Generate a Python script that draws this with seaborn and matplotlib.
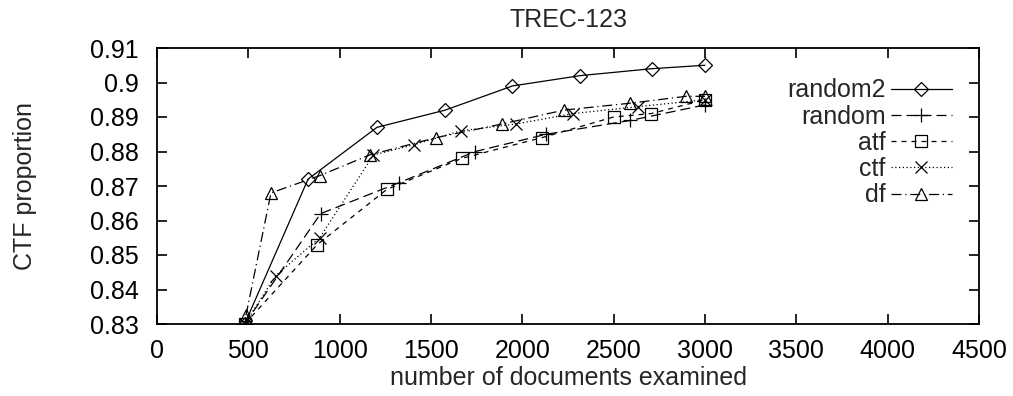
import pandas as pd
import seaborn as sns
import matplotlib.pyplot as plt

sns.set_style('ticks')
plt.rcParams['font.family'] = ['Liberation Sans', 'DejaVu Sans']

# data
x_random2 = [480, 827, 1204, 1578, 1946, 2318, 2709, 3000]
y_random2 = [0.830, 0.872, 0.887, 0.892, 0.899, 0.902, 0.904, 0.905]

x_random = [480, 896, 1327, 1742, 2131, 2591, 3000]
y_random = [0.830, 0.862, 0.871, 0.880, 0.885, 0.889, 0.8935]

x_atf = [480, 877, 1258, 1668, 2106, 2500, 2706, 3000]
y_atf = [0.830, 0.853, 0.869, 0.878, 0.884, 0.890, 0.891, 0.895]

x_ctf = [480, 649, 891, 1185, 1409, 1664, 1968, 2279, 2631, 3000]
y_ctf = [0.830, 0.844, 0.855, 0.879, 0.882, 0.886, 0.888, 0.891, 0.893, 0.895]

x_df = [487, 624, 891, 1164, 1527, 1891, 2227, 2591, 2897, 3000]
y_df = [0.8325, 0.868, 0.873, 0.879, 0.884, 0.888, 0.892, 0.894, 0.896, 0.896]

series = [
    ('random2', x_random2, y_random2, '-', 'D', 7),
    ('random', x_random, y_random, (0, (8, 4)), '+', 10),
    ('atf', x_atf, y_atf, (0, (4, 4)), 's', 9),
    ('ctf', x_ctf, y_ctf, (0, (1, 2)), 'x', 9),
    ('df', x_df, y_df, (0, (8, 3, 1, 3)), '^', 9),
]

fig = plt.figure(figsize=(10.13, 3.96), dpi=100)
ax = fig.add_axes([157 / 1013, 1 - 324 / 396, 822 / 1013, 276 / 396])

for name, xs, ys, ls, mk, ms in series:
    df = pd.DataFrame({'x': xs, 'y': ys})
    sns.lineplot(data=df, x='x', y='y', ax=ax, color='black', linewidth=0.9,
                 linestyle=ls, marker=mk, markersize=ms, fillstyle='none',
                 markeredgecolor='black', markeredgewidth=0.9, label=name)

ax.set_xlim(0, 4500)
ax.set_ylim(0.83, 0.91)
ax.set_xticks(range(0, 4501, 500))
ax.set_yticks([0.83, 0.84, 0.85, 0.86, 0.87, 0.88, 0.89, 0.9, 0.91])
ax.set_yticklabels(['0.83', '0.84', '0.85', '0.86', '0.87', '0.88', '0.89', '0.9', '0.91'])
ax.tick_params(direction='in', top=True, right=True, length=7, width=1.2, labelsize=18, colors='black')
ax.tick_params(axis='y', pad=13)
ax.tick_params(axis='x', pad=11)
for s in ax.spines.values():
    s.set_linewidth(1.3)
    s.set_color('black')
ax.set_xlabel('number of documents examined', fontsize=18, labelpad=2)
ax.set_ylabel('CTF proportion', fontsize=18, labelpad=38)
ax.set_title('TREC-123', fontsize=18, pad=15)

leg = ax.legend(loc='upper right', bbox_to_anchor=(0.967, 0.89), frameon=False, markerfirst=False,
                fontsize=18, handlelength=2.45, labelspacing=0.09, handletextpad=0.2,
                borderaxespad=0, borderpad=0)

fig.savefig('out.png', dpi=100)
